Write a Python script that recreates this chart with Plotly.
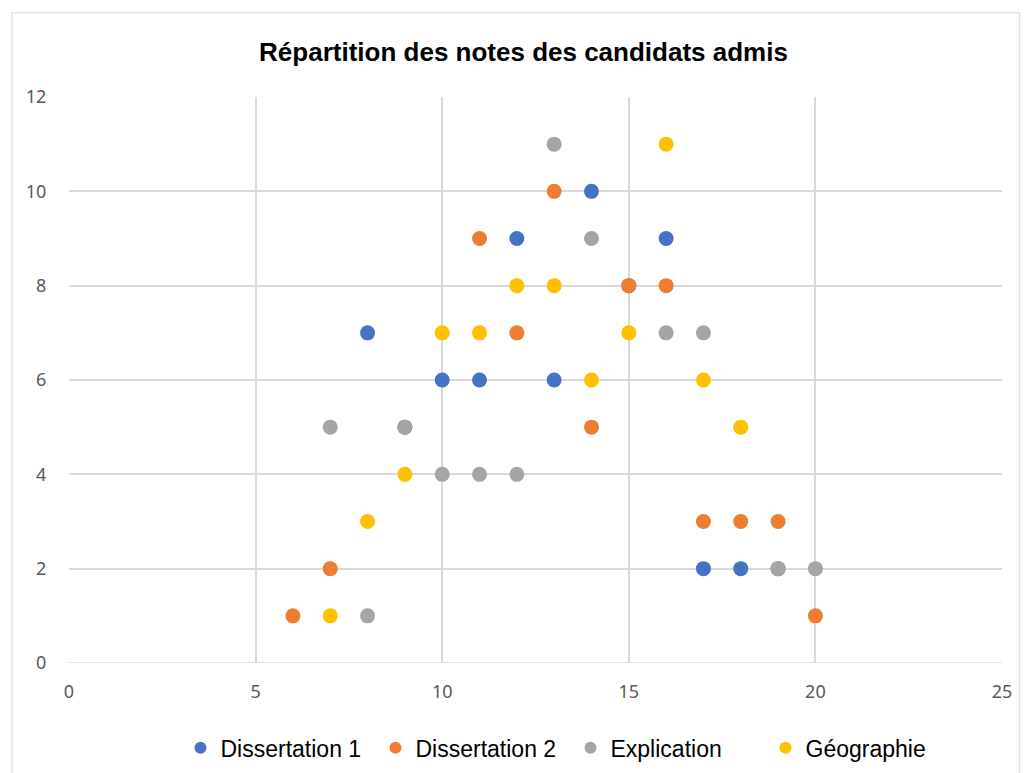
import plotly.graph_objects as go

# Scatter of grades (x) vs number of candidates (y)
diss1_x = [8, 10, 11, 12, 13, 14, 16, 17, 18, 19, 9, 15]
diss1_y = [7, 6, 6, 9, 6, 10, 9, 2, 2, 2, 5, 8]

diss2_x = [6, 7, 11, 12, 13, 14, 15, 16, 17, 18, 19, 20]
diss2_y = [1, 2, 9, 7, 10, 5, 8, 8, 3, 3, 3, 1]

expl_x = [7, 8, 9, 10, 11, 12, 13, 14, 16, 17, 19, 20]
expl_y = [5, 1, 5, 4, 4, 4, 11, 9, 7, 7, 2, 2]

geo_x = [7, 8, 9, 10, 11, 12, 13, 14, 15, 16, 17, 18]
geo_y = [1, 3, 4, 7, 7, 8, 8, 6, 7, 11, 6, 5]

series = [
    ('Dissertation 1', diss1_x, diss1_y, '#4472C4'),
    ('Dissertation 2', diss2_x, diss2_y, '#ED7D31'),
    ('Explication', expl_x, expl_y, '#A5A5A5'),
    ('Géographie', geo_x, geo_y, '#FFC000'),
]

fig = go.Figure()
for name, xs, ys, color in series:
    fig.add_trace(go.Scatter(
        x=xs, y=ys, mode='markers', name=name,
        marker=dict(color=color, size=15, line=dict(width=0))
    ))

fig.update_layout(
    width=1031,
    height=773,
    margin=dict(l=61, r=37, t=89, b=114),
    paper_bgcolor='white',
    plot_bgcolor='white',
    title=dict(
        text='<b>Répartition des notes des candidats admis</b>',
        x=0.5, xanchor='center', y=0.943, yanchor='middle',
        font=dict(family='Liberation Sans, Arial', size=26, color='#000000')
    ),
    xaxis=dict(
        range=[0, 25], dtick=5, showgrid=True, gridcolor='#D9D9D9', gridwidth=1.5,
        zeroline=False, showline=False, ticks='outside', ticklen=12, tickcolor='white',
        tickfont=dict(family='Noto Sans, Open Sans', size=18, color='#595959'),
    ),
    yaxis=dict(
        range=[0, 12], dtick=2, showgrid=True, gridcolor='#D9D9D9', gridwidth=1.5,
        zeroline=False, showline=False, ticks='outside', ticklen=18, tickcolor='white',
        tickfont=dict(family='Noto Sans, Open Sans', size=18, color='#595959'),
    ),
    legend=dict(
        orientation='h', x=0.5375, xanchor='center', y=-0.112, yanchor='top',
        font=dict(family='Liberation Sans, Arial', size=23, color='#000000'),
        itemsizing='constant', itemwidth=30, tracegroupgap=0,
        entrywidth=150, entrywidthmode='pixels',
    ),
    shapes=[
        dict(type='rect', xref='paper', yref='paper',
             x0=-0.061, x1=1.019, y0=-0.2, y1=1.149,
             line=dict(color='#D9D9D9', width=1), layer='below'),
        dict(type='line', xref='paper', yref='y', x0=0, x1=1, y0=0, y1=0,
             line=dict(color='#D9D9D9', width=1.5), layer='below'),
    ],
)

fig.write_html("out.html")
